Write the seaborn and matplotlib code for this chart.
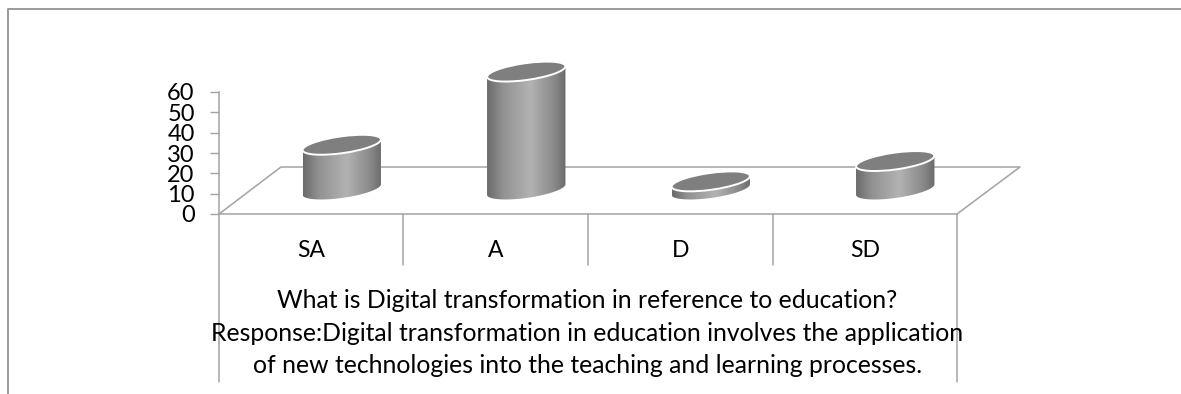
import numpy as np
import matplotlib
matplotlib.use("Agg")
import matplotlib.pyplot as plt
import seaborn as sns
from matplotlib.lines import Line2D
from matplotlib.patches import Ellipse, PathPatch
from matplotlib.path import Path
from matplotlib.transforms import IdentityTransform

categories = ["SA", "A", "D", "SD"]
values = [22, 58, 4, 14]
y_ticks = [0, 10, 20, 30, 40, 50, 60]
title_lines = [
    "What is Digital transformation in reference to education?",
    "Response:Digital transformation in education involves the application",
    "of new technologies into the teaching and learning processes.",
]

W, H = 1181, 394
LINE = "#a3a3a3"

sns.set_theme(style="white")
plt.rcParams["font.family"] = ["Lato", "DejaVu Sans"]


def px_rect(x0, y_top, x1, y_bottom):
    return [x0 / W, 1 - y_bottom / H, (x1 - x0) / W, (y_bottom - y_top) / H]


def px_line(fig, xs, ys, lw=1.1, color=LINE):
    fig.add_artist(Line2D([x / W for x in xs], [1 - y / H for y in ys], color=color,
                          lw=lw, zorder=-1, transform=fig.transFigure))


def ellipse_points(cx, cy, a, b, theta, t):
    return np.column_stack([
        cx + a * np.cos(t) * np.cos(theta) - b * np.sin(t) * np.sin(theta),
        cy + a * np.cos(t) * np.sin(theta) + b * np.sin(t) * np.cos(theta),
    ])


def draw_cylinder(ax, bar, tilt=8.0, b=8.4):
    # bar gives the extent, the 3D look is painted over it in pixel space
    (x0, y0), (x1, y1) = ax.transData.transform(
        [(bar.get_x(), 0), (bar.get_x() + bar.get_width(), bar.get_height())])
    cx = (x0 + x1) / 2
    theta = np.radians(tilt)
    half = (x1 - x0) / 2
    a = half / np.sqrt(np.cos(theta) ** 2 + (b / half * np.sin(theta)) ** 2)
    t0 = np.arctan2(-b * np.sin(theta), a * np.cos(theta))
    low = ellipse_points(cx, y0, a, b, theta, np.linspace(t0 + np.pi, t0 + 2 * np.pi, 60))
    up = ellipse_points(cx, y1, a, b, theta, np.linspace(t0, t0 + np.pi, 60))
    body = Path(np.vstack([low, up, low[:1]]), closed=True)

    stops = np.interp(np.linspace(0, 1, 200), [0, 0.2, 0.55, 0.85, 1],
                      [0.42, 0.57, 0.70, 0.54, 0.42])
    im = ax.imshow(stops[None, :], cmap="gray", vmin=0, vmax=1, aspect="auto", zorder=3,
                   extent=(bar.get_x(), bar.get_x() + bar.get_width(), -10, bar.get_height() + 10))
    im.set_clip_box(ax.figure.bbox)
    im.set_clip_path(PathPatch(body, transform=IdentityTransform()))
    ax.add_patch(Ellipse((cx, y1), 2 * a, 2 * b, angle=tilt, facecolor="#7f7f7f",
                         edgecolor="white", lw=1.4, zorder=4,
                         transform=IdentityTransform(), clip_on=False))
    bar.set_visible(False)


fig = plt.figure(figsize=(W / 100, H / 100), dpi=100)

# outer frame
px_line(fig, [8, 8, W], [H, 9, 9], lw=1.4, color="#9a9a9a")

# floor and category dividers
px_line(fig, [219, 281, 1020, 957, 219], [214, 167, 167, 214, 214])
px_line(fig, [219, 219], [214, 382])
px_line(fig, [957, 957], [214, 382])
for x in [403, 588, 773]:
    px_line(fig, [x, x], [214, 265])

ax = fig.add_axes(px_rect(219, 92, 957, 214))
ax.patch.set_alpha(0)
ax.set_xlim(-0.5, len(categories) - 0.5)
ax.set_ylim(0, 60)
ax.set_yticks(y_ticks)
ax.set_xticks(range(len(categories)), categories)
ax.tick_params(axis="y", length=6.5, width=1.0, color=LINE, labelsize=17, pad=11, left=True, labelcolor="black")
ax.tick_params(axis="x", length=0, labelsize=16.5, pad=18.5, labelcolor="black")
for name, spine in ax.spines.items():
    spine.set_visible(name == "left")
ax.spines["left"].set_color(LINE)
ax.spines["left"].set_linewidth(1.1)

# bars stand half way back on the floor
ax_bars = fig.add_axes(px_rect(249.5, 67.5, 987.5, 189.5), zorder=2)
ax_bars.patch.set_alpha(0)
sns.barplot(x=categories, y=values, width=0.425, color="#999999", ax=ax_bars)
ax_bars.set_xlim(-0.5, len(categories) - 0.5)
ax_bars.set_ylim(0, 60)
for bar in list(ax_bars.patches):
    draw_cylinder(ax_bars, bar)
ax_bars.set_xlim(-0.5, len(categories) - 0.5)
ax_bars.set_ylim(0, 60)
ax_bars.axis("off")

for line, baseline in zip(title_lines, [308, 341, 373]):
    fig.text(587.5 / W, 1 - baseline / H, line, ha="center", va="baseline", fontsize=17.8, color="black")

fig.savefig("out.png", dpi=100)
plt.close(fig)
